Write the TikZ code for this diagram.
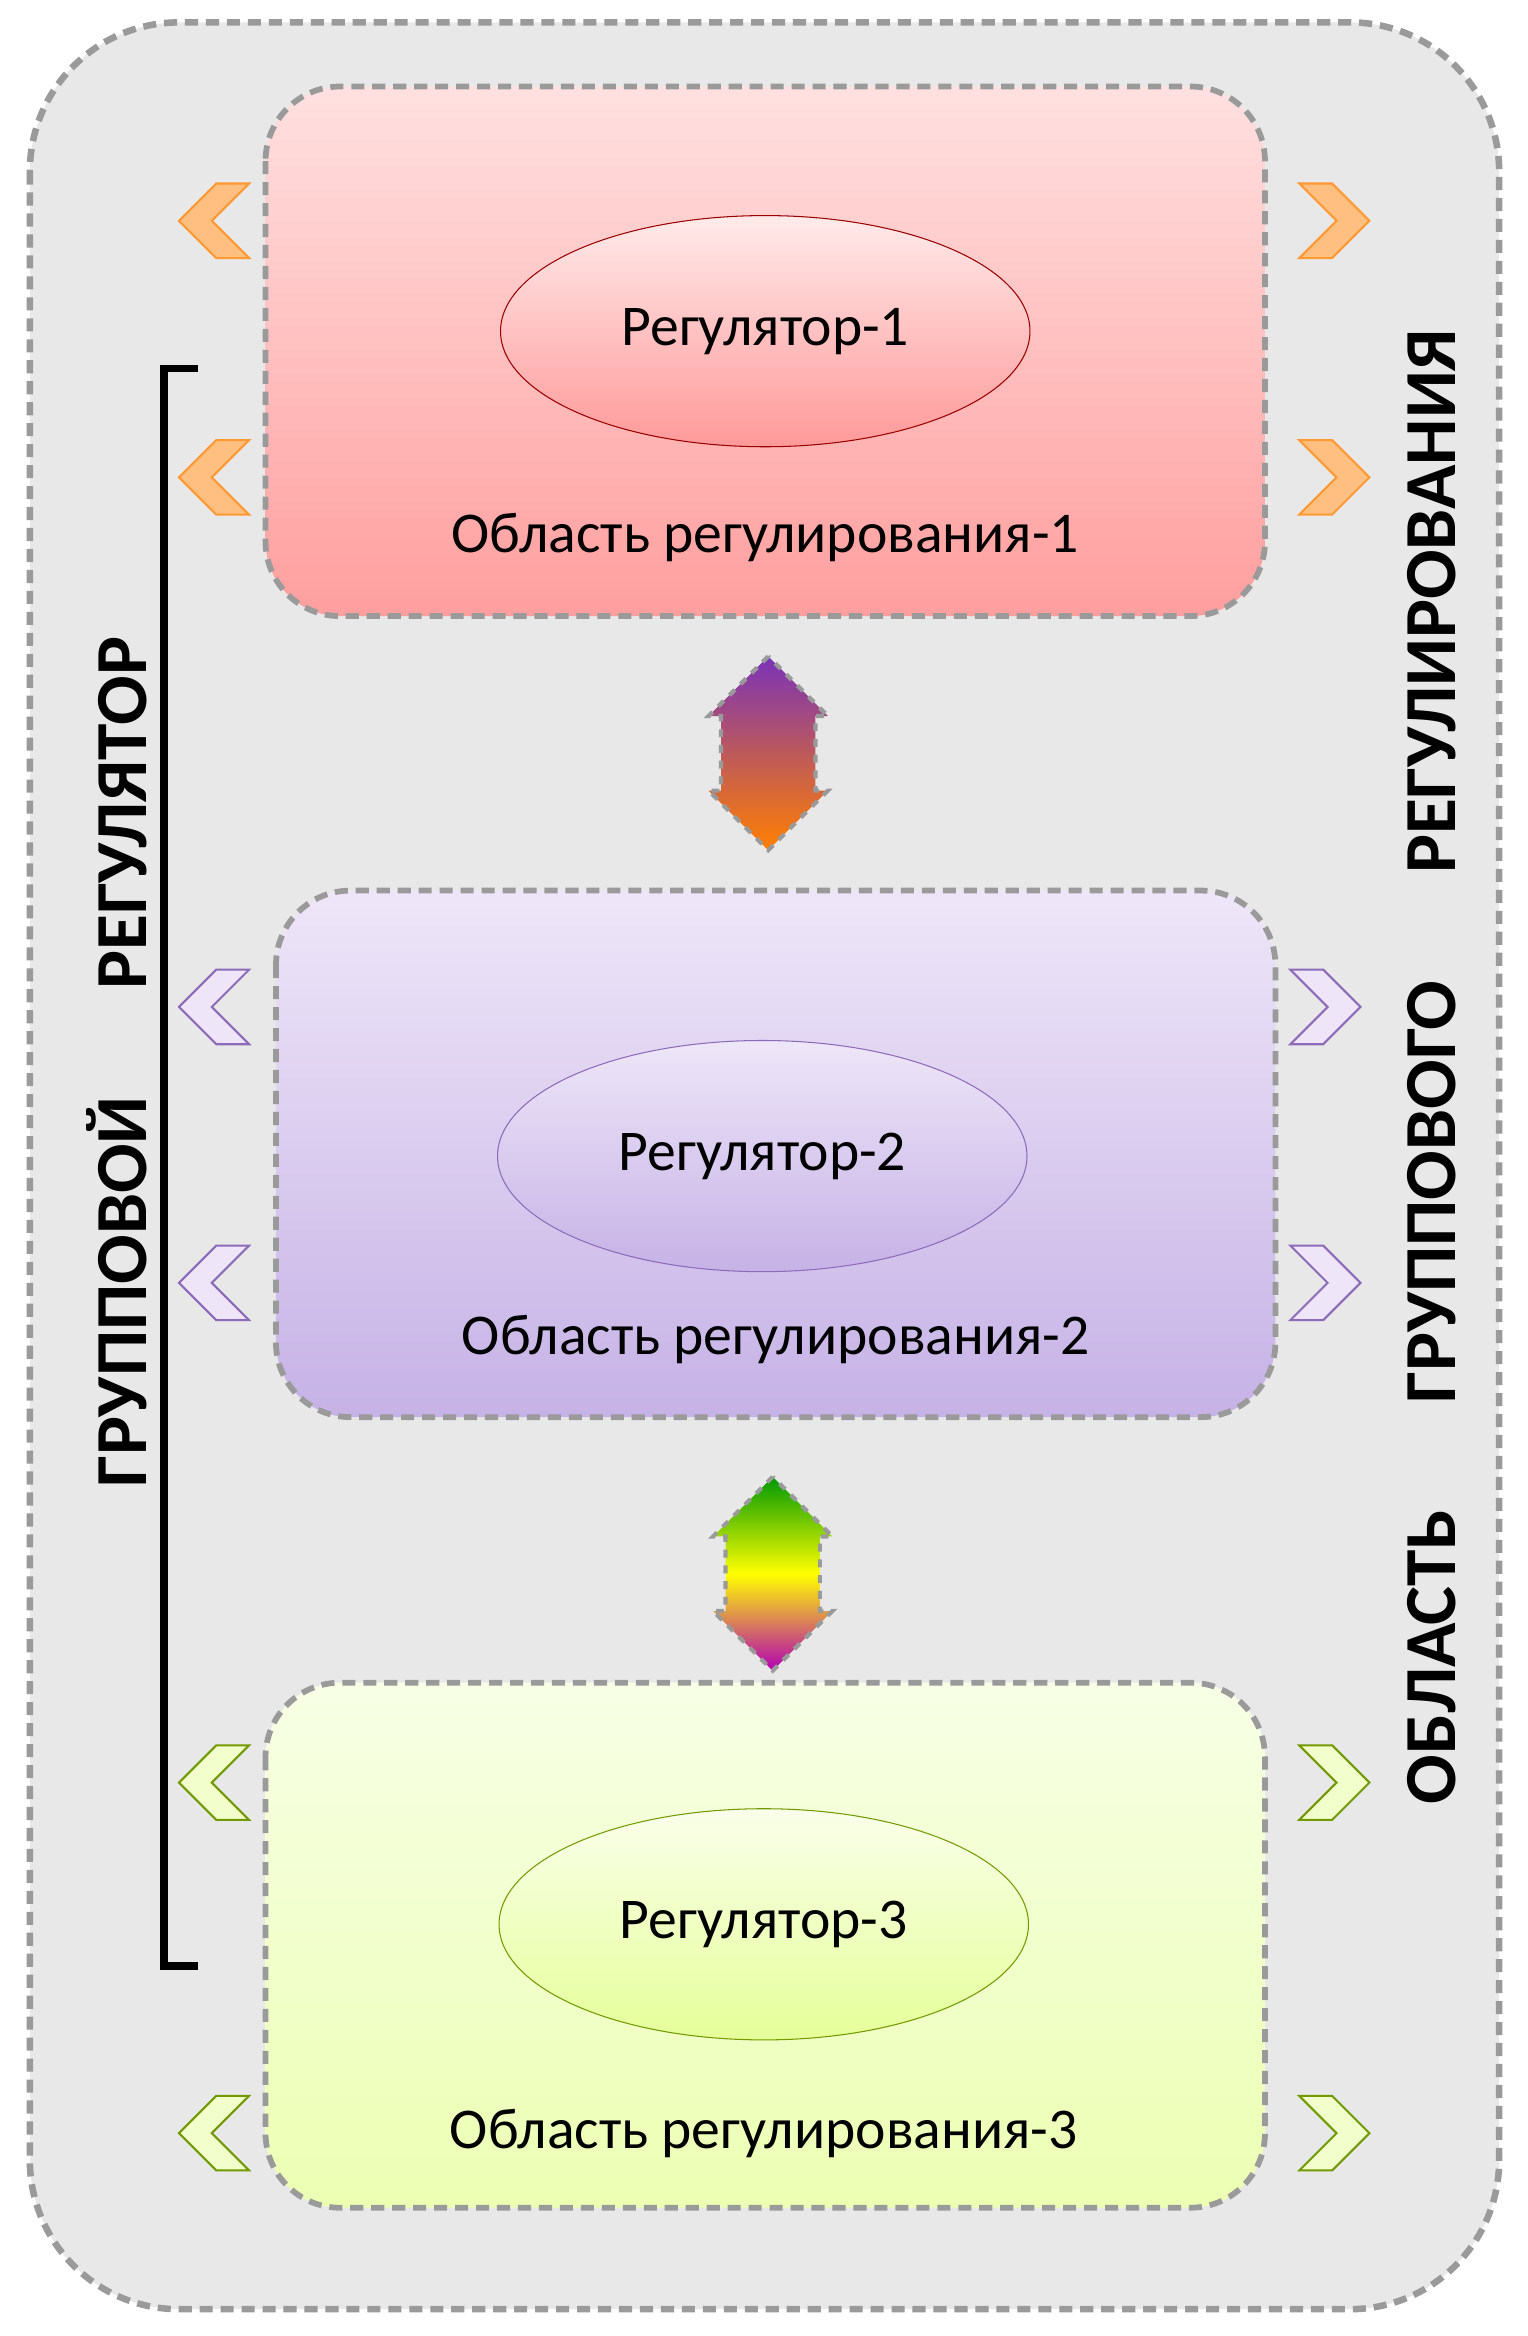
\documentclass[tikz,border=0pt]{standalone}
\usepackage{fontspec}
\setmainfont{Carlito}
\usetikzlibrary{shapes.geometric, shapes.arrows, positioning, calc}

\definecolor{frame}{HTML}{9A9A9A}
\definecolor{bgray}{HTML}{E8E8E8}
\definecolor{lavtop}{HTML}{EEE6F8}
\definecolor{lavbot}{HTML}{C6B2E6}
\definecolor{lavline}{HTML}{8C6BB8}

\tikzset{
    area/.style={draw=frame, dashed, line width=2.2pt, dash pattern=on 5pt off 3pt, rounded corners=1cm},
    reg/.style={ellipse, minimum width=7.1cm, minimum height=3.1cm, font=\fontsize{22}{26}\selectfont},
    arealabel/.style={font=\fontsize{22}{26}\selectfont},
    biglabel/.style={font=\bfseries\fontsize{28}{32}\selectfont, rotate=90},
    link/.style={double arrow, shape border rotate=90, draw=frame, dashed, line width=1.6pt,
        minimum height=2.6cm, minimum width=1.6cm, double arrow head extend=0.1cm, inner sep=0.35cm}
}

% chevron: #1 x, #2 y, #3 direction (1 right, -1 left), #4 fill, #5 draw
\newcommand{\chev}[5]{%
  \fill[#4, draw=#5, line width=0.8pt, shift={(#1,#2)}, xscale=#3]
    (25,0) -- (0,25) -- (-22,25) -- (3,0) -- (-22,-25) -- (0,-25) -- cycle;}

\begin{document}
\begin{tikzpicture}[x=0.02cm, y=-0.02cm]
    \useasboundingbox (0,0) rectangle (1024,1566);
    % Outer area
    \draw[area, fill=bgray, rounded corners=2cm, line width=2.5pt] (20,15) rectangle (1005,1548);

    % Regulation areas
    \draw[area, top color=red!12, bottom color=red!38] (178,58) rectangle (848,413);
    \draw[area, top color=lavtop, bottom color=lavbot] (185,597) rectangle (855,950);
    \draw[area, top color=green!8!lime!10, bottom color=lime!30] (178,1128) rectangle (848,1480);

    % Regulators
    \node[reg, draw=red!60!black, top color=red!8, bottom color=red!40] (Reg1) at (513,222) {Регулятор-1};
    \node[reg, draw=lavline, top color=lavtop, bottom color=lavbot] (Reg2) at (511,775) {Регулятор-2};
    \node[reg, draw=lime!60!black, top color=lime!8, bottom color=lime!40] (Reg3) at (512,1290) {Регулятор-3};

    \node[arealabel] (Lab1) at (513,360) {Область регулирования-1};
    \node[arealabel] (Lab2) at (520,898) {Область регулирования-2};
    \node[arealabel] (Lab3) at (512,1430) {Область регулирования-3};

    % Links between areas
    \node[link, top color=violet!70!blue!80, bottom color=orange] (Link12) at (515,505) {};
    \node[link, top color=green!60!black, bottom color=magenta!70!black, middle color=yellow] (Link23) at (518,1055) {};

    % Chevrons
    \foreach \y in {148,320} {
        \chev{145}{\y}{-1}{orange!50}{orange!80}
        \chev{893}{\y}{1}{orange!50}{orange!80}
    }
    \foreach \y in {675,860} {
        \chev{145}{\y}{-1}{lavtop}{lavline}
        \chev{887}{\y}{1}{lavtop}{lavline}
    }
    \foreach \y in {1195,1430} {
        \chev{145}{\y}{-1}{lime!20}{lime!60!black}
        \chev{893}{\y}{1}{lime!20}{lime!60!black}
    }

    % Group bracket
    \coordinate (BrTop) at (110,247);
    \coordinate (BrBot) at (110,1318);
    \draw[line width=3pt] ($(BrTop)+(23,0)$) -- (BrTop) -- (BrBot) -- ($(BrBot)+(23,0)$);

    \node[biglabel] (Group) at (78,712) {ГРУППОВОЙ\quad\ \ РЕГУЛЯТОР};
    \node[biglabel] (GroupArea) at (960,715) {ОБЛАСТЬ\quad\ \ ГРУППОВОГО\quad\ \ РЕГУЛИРОВАНИЯ};
\end{tikzpicture}
\end{document}
